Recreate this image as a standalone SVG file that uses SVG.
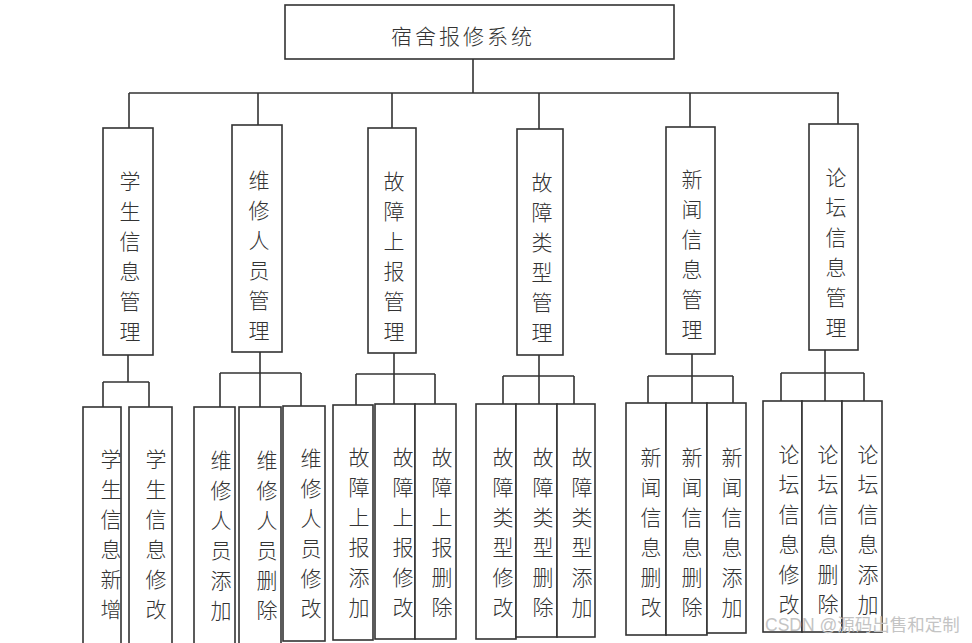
<svg xmlns="http://www.w3.org/2000/svg" width="972" height="643" viewBox="0 0 972 643">
<style>
.box{fill:#fff;stroke:#333;stroke-width:1.6}
.ln{fill:none;stroke:#333;stroke-width:1.6}
.t{font-family:"Liberation Serif","Noto Sans CJK SC",serif;font-size:21px;font-weight:300;fill:#333;text-anchor:middle;dominant-baseline:central}
.title{font-family:"Liberation Serif","Noto Sans CJK SC",serif;font-size:21px;font-weight:300;fill:#333;letter-spacing:3px;text-anchor:middle;dominant-baseline:central}
.wm{font-family:"Liberation Sans","Noto Sans CJK SC",sans-serif;font-size:17.5px;fill:#c4c4c4}
</style>
<rect width="972" height="643" fill="#fff"/>
<g id="connectors">
<path class="ln" d="M473 59V93M129 93H839M129 93V128M258 93V125M392 93V128M539 93V129M690 93V127M838 93V124"/>
<path class="ln" d="M128 355V382M103 382H149M103 382V407M149 382V407"/>
<path class="ln" d="M260 352V373M220 373H301M220 373V407M260 373V407M301 373V406"/>
<path class="ln" d="M394 353V374M356 374H435M356 374V405M394 374V404M435 374V404"/>
<path class="ln" d="M539 355V376M503 376H574M503 376V404M539 376V404M574 376V404"/>
<path class="ln" d="M692 354V376M648 376H733M648 376V403M692 376V403M733 376V403"/>
<path class="ln" d="M825 350V373M781 373H864M781 373V401M825 373V401M864 373V401"/>
</g>
<g id="root"><rect class="box" x="285" y="5" width="389" height="54"/><text class="title" x="463" y="37">宿舍报修系统</text></g>
<g id="m1"><rect class="box" x="103" y="128" width="50" height="227"/><text class="t"><tspan x="130" y="182">学</tspan><tspan x="130" dy="30">生</tspan><tspan x="130" dy="30">信</tspan><tspan x="130" dy="30">息</tspan><tspan x="130" dy="30">管</tspan><tspan x="130" dy="30">理</tspan></text></g>
<g id="m2"><rect class="box" x="232" y="125" width="50" height="227"/><text class="t"><tspan x="259" y="181">维</tspan><tspan x="259" dy="30">修</tspan><tspan x="259" dy="30">人</tspan><tspan x="259" dy="30">员</tspan><tspan x="259" dy="30">管</tspan><tspan x="259" dy="30">理</tspan></text></g>
<g id="m3"><rect class="box" x="368" y="128" width="48" height="225"/><text class="t"><tspan x="394" y="182">故</tspan><tspan x="394" dy="30">障</tspan><tspan x="394" dy="30">上</tspan><tspan x="394" dy="30">报</tspan><tspan x="394" dy="30">管</tspan><tspan x="394" dy="30">理</tspan></text></g>
<g id="m4"><rect class="box" x="517" y="129" width="46" height="226"/><text class="t"><tspan x="542" y="183">故</tspan><tspan x="542" dy="30">障</tspan><tspan x="542" dy="30">类</tspan><tspan x="542" dy="30">型</tspan><tspan x="542" dy="30">管</tspan><tspan x="542" dy="30">理</tspan></text></g>
<g id="m5"><rect class="box" x="666" y="127" width="49" height="227"/><text class="t"><tspan x="692" y="180">新</tspan><tspan x="692" dy="30">闻</tspan><tspan x="692" dy="30">信</tspan><tspan x="692" dy="30">息</tspan><tspan x="692" dy="30">管</tspan><tspan x="692" dy="30">理</tspan></text></g>
<g id="m6"><rect class="box" x="809" y="124" width="49" height="226"/><text class="t"><tspan x="836" y="178">论</tspan><tspan x="836" dy="30">坛</tspan><tspan x="836" dy="30">信</tspan><tspan x="836" dy="30">息</tspan><tspan x="836" dy="30">管</tspan><tspan x="836" dy="30">理</tspan></text></g>
<g id="l1"><rect class="box" x="83" y="407" width="38" height="240"/><text class="t"><tspan x="111" y="460">学</tspan><tspan x="111" dy="30">生</tspan><tspan x="111" dy="30">信</tspan><tspan x="111" dy="30">息</tspan><tspan x="111" dy="30">新</tspan><tspan x="111" dy="30">增</tspan></text></g>
<g id="l2"><rect class="box" x="129" y="407" width="43" height="240"/><text class="t"><tspan x="156" y="460">学</tspan><tspan x="156" dy="30">生</tspan><tspan x="156" dy="30">信</tspan><tspan x="156" dy="30">息</tspan><tspan x="156" dy="30">修</tspan><tspan x="156" dy="30">改</tspan></text></g>
<g id="l3"><rect class="box" x="194" y="407" width="41" height="240"/><text class="t"><tspan x="221" y="461">维</tspan><tspan x="221" dy="30">修</tspan><tspan x="221" dy="30">人</tspan><tspan x="221" dy="30">员</tspan><tspan x="221" dy="30">添</tspan><tspan x="221" dy="30">加</tspan></text></g>
<g id="l4"><rect class="box" x="239" y="407" width="42" height="240"/><text class="t"><tspan x="267" y="461">维</tspan><tspan x="267" dy="30">修</tspan><tspan x="267" dy="30">人</tspan><tspan x="267" dy="30">员</tspan><tspan x="267" dy="30">删</tspan><tspan x="267" dy="30">除</tspan></text></g>
<g id="l5"><rect class="box" x="283" y="406" width="42" height="235"/><text class="t"><tspan x="311" y="459">维</tspan><tspan x="311" dy="30">修</tspan><tspan x="311" dy="30">人</tspan><tspan x="311" dy="30">员</tspan><tspan x="311" dy="30">修</tspan><tspan x="311" dy="30">改</tspan></text></g>
<g id="l6"><rect class="box" x="333" y="405" width="40" height="235"/><text class="t"><tspan x="359" y="458">故</tspan><tspan x="359" dy="30">障</tspan><tspan x="359" dy="30">上</tspan><tspan x="359" dy="30">报</tspan><tspan x="359" dy="30">添</tspan><tspan x="359" dy="30">加</tspan></text></g>
<g id="l7"><rect class="box" x="375" y="404" width="40" height="235"/><text class="t"><tspan x="403" y="458">故</tspan><tspan x="403" dy="30">障</tspan><tspan x="403" dy="30">上</tspan><tspan x="403" dy="30">报</tspan><tspan x="403" dy="30">修</tspan><tspan x="403" dy="30">改</tspan></text></g>
<g id="l8"><rect class="box" x="415" y="404" width="41" height="235"/><text class="t"><tspan x="442" y="458">故</tspan><tspan x="442" dy="30">障</tspan><tspan x="442" dy="30">上</tspan><tspan x="442" dy="30">报</tspan><tspan x="442" dy="30">删</tspan><tspan x="442" dy="30">除</tspan></text></g>
<g id="l9"><rect class="box" x="476" y="404" width="40" height="235"/><text class="t"><tspan x="503" y="458">故</tspan><tspan x="503" dy="30">障</tspan><tspan x="503" dy="30">类</tspan><tspan x="503" dy="30">型</tspan><tspan x="503" dy="30">修</tspan><tspan x="503" dy="30">改</tspan></text></g>
<g id="l10"><rect class="box" x="516" y="404" width="41" height="233"/><text class="t"><tspan x="543" y="458">故</tspan><tspan x="543" dy="30">障</tspan><tspan x="543" dy="30">类</tspan><tspan x="543" dy="30">型</tspan><tspan x="543" dy="30">删</tspan><tspan x="543" dy="30">除</tspan></text></g>
<g id="l11"><rect class="box" x="557" y="404" width="38" height="233"/><text class="t"><tspan x="582" y="458">故</tspan><tspan x="582" dy="30">障</tspan><tspan x="582" dy="30">类</tspan><tspan x="582" dy="30">型</tspan><tspan x="582" dy="30">添</tspan><tspan x="582" dy="30">加</tspan></text></g>
<g id="l12"><rect class="box" x="626" y="403" width="40" height="232"/><text class="t"><tspan x="651" y="458">新</tspan><tspan x="651" dy="30">闻</tspan><tspan x="651" dy="30">信</tspan><tspan x="651" dy="30">息</tspan><tspan x="651" dy="30">删</tspan><tspan x="651" dy="30">改</tspan></text></g>
<g id="l13"><rect class="box" x="666" y="403" width="41" height="232"/><text class="t"><tspan x="692" y="458">新</tspan><tspan x="692" dy="30">闻</tspan><tspan x="692" dy="30">信</tspan><tspan x="692" dy="30">息</tspan><tspan x="692" dy="30">删</tspan><tspan x="692" dy="30">除</tspan></text></g>
<g id="l14"><rect class="box" x="707" y="403" width="39" height="230"/><text class="t"><tspan x="732" y="458">新</tspan><tspan x="732" dy="30">闻</tspan><tspan x="732" dy="30">信</tspan><tspan x="732" dy="30">息</tspan><tspan x="732" dy="30">添</tspan><tspan x="732" dy="30">加</tspan></text></g>
<g id="l15"><rect class="box" x="763" y="401" width="39" height="231"/><text class="t"><tspan x="789" y="455">论</tspan><tspan x="789" dy="30">坛</tspan><tspan x="789" dy="30">信</tspan><tspan x="789" dy="30">息</tspan><tspan x="789" dy="30">修</tspan><tspan x="789" dy="30">改</tspan></text></g>
<g id="l16"><rect class="box" x="802" y="401" width="40" height="231"/><text class="t"><tspan x="828" y="455">论</tspan><tspan x="828" dy="30">坛</tspan><tspan x="828" dy="30">信</tspan><tspan x="828" dy="30">息</tspan><tspan x="828" dy="30">删</tspan><tspan x="828" dy="30">除</tspan></text></g>
<g id="l17"><rect class="box" x="842" y="401" width="40" height="231"/><text class="t"><tspan x="868" y="455">论</tspan><tspan x="868" dy="30">坛</tspan><tspan x="868" dy="30">信</tspan><tspan x="868" dy="30">息</tspan><tspan x="868" dy="30">添</tspan><tspan x="868" dy="30">加</tspan></text></g>
<text class="wm" x="765" y="631">CSDN @源码出售和定制</text>
</svg>
